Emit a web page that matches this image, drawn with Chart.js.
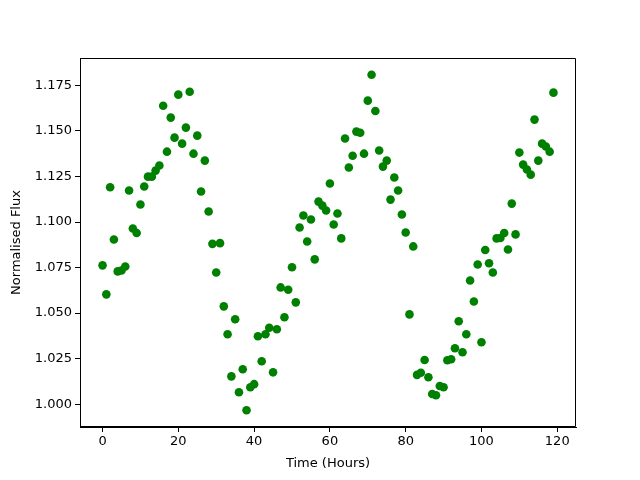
<!DOCTYPE html>
<html>
<head>
<meta charset="utf-8">
<script src="https://cdn.jsdelivr.net/npm/chart.js@4/dist/chart.umd.min.js"></script>
<style>
html,body{margin:0;padding:0;background:#fff;}
#wrap{width:640px;height:480px;}
</style>
</head>
<body>
<div id="wrap"><canvas id="c" width="640" height="480"></canvas></div>
<script>
const hours = [];
for (let i = 0; i < 120; i++) hours.push(i);
const flux = [
1.0762,1.0603,1.1191,1.0904,1.0729,1.0734,1.0756,1.1173,1.0964,1.0940,
1.1096,1.1195,1.1249,1.1249,1.1282,1.1310,1.1638,1.1386,1.1573,1.1463,
1.1699,1.1430,1.1518,1.1715,1.1375,1.1474,1.1167,1.1337,1.1058,1.0880,
1.0723,1.0884,1.0537,1.0384,1.0153,1.0466,1.0066,1.0192,0.9967,1.0093,
1.0110,1.0373,1.0236,1.0384,1.0420,1.0175,1.0411,1.0641,1.0477,1.0628,
1.0752,1.0559,1.0970,1.1036,1.0893,1.1014,1.0795,1.1112,1.1090,1.1063,
1.1211,1.0986,1.1047,1.0910,1.1458,1.1299,1.1364,1.1496,1.1490,1.1375,
1.1666,1.1808,1.1609,1.1392,1.1304,1.1337,1.1123,1.1244,1.1173,1.1041,
1.0942,1.0493,1.0866,1.0161,1.0173,1.0243,1.0148,1.0056,1.0049,1.0100,
1.0093,1.0241,1.0247,1.0307,1.0455,1.0285,1.0384,1.0679,1.0564,1.0767,
1.0340,1.0846,1.0774,1.0723,1.0910,1.0912,1.0940,1.0849,1.1101,1.0932,
1.1381,1.1315,1.1288,1.1260,1.1562,1.1337,1.1430,1.1414,1.1386,1.1710
];
const xTicks = [0,20,40,60,80,100,120];
const yTicks = [1.000,1.025,1.050,1.075,1.100,1.125,1.150,1.175];

const points = hours.map((h,i)=>({x:h,y:flux[i]}));
const xmin = Math.min(...hours), xmax = Math.max(...hours);
const ymin = Math.min(...flux), ymax = Math.max(...flux);
const xm = (xmax-xmin)*0.05, ym = (ymax-ymin)*0.05;

const FONT = {family:'DejaVu Sans', size:13};

const axFrame = {
  id:'axFrame',
  afterDraw(chart){
    const a = chart.chartArea, ctx = chart.ctx;
    const l = Math.round(a.left)+0.5, r = Math.round(a.right)-0.5;
    const t = Math.round(a.top)+0.5, b = Math.round(a.bottom)-0.5;
    ctx.save();
    ctx.strokeStyle = '#000';
    ctx.lineWidth = 1;
    ctx.beginPath();
    ctx.moveTo(l,t); ctx.lineTo(r,t); ctx.lineTo(r,b); ctx.lineTo(l,b); ctx.closePath();
    ctx.stroke();
    ctx.restore();
  }
};

new Chart(document.getElementById('c'), {
  type:'scatter',
  data:{datasets:[{
    data:points,
    backgroundColor:'#008000',
    borderColor:'#008000',
    pointRadius:4.3,
    pointHoverRadius:4.3,
    borderWidth:0
  }]},
  options:{
    responsive:false,
    animation:false,
    devicePixelRatio:1,
    layout:{padding:{top:58,right:64,left:0,bottom:0}},
    plugins:{legend:{display:false},tooltip:{enabled:false}},
    scales:{
      x:{
        type:'linear',
        min:xmin-xm, max:xmax+xm,
        afterBuildTicks(s){ s.ticks = xTicks.map(v=>({value:v})); },
        afterFit(s){ s.height = 53; },
        grid:{display:true, drawOnChartArea:false, drawTicks:true, tickLength:5, tickColor:'#000', color:'#000'},
        border:{display:true, color:'#000', width:1},
        ticks:{color:'#000', font:FONT, padding:2, maxRotation:0, autoSkip:false,
          callback:(v)=>String(v)},
        title:{display:true, text:'Time (Hours)', color:'#000', font:FONT, padding:{top:2,bottom:9}}
      },
      y:{
        type:'linear',
        min:ymin-ym, max:ymax+ym,
        afterBuildTicks(s){ s.ticks = yTicks.map(v=>({value:v})); },
        afterFit(s){ s.width = 80; },
        grid:{display:true, drawOnChartArea:false, drawTicks:true, tickLength:5, tickColor:'#000', color:'#000'},
        border:{display:true, color:'#000', width:1},
        ticks:{color:'#000', font:FONT, padding:3, autoSkip:false,
          callback:(v)=>v.toFixed(3)},
        title:{display:true, text:'Normalised Flux', color:'#000', font:FONT, padding:{top:9,bottom:2}}
      }
    }
  },
  plugins:[axFrame]
});
</script>
</body>
</html>
